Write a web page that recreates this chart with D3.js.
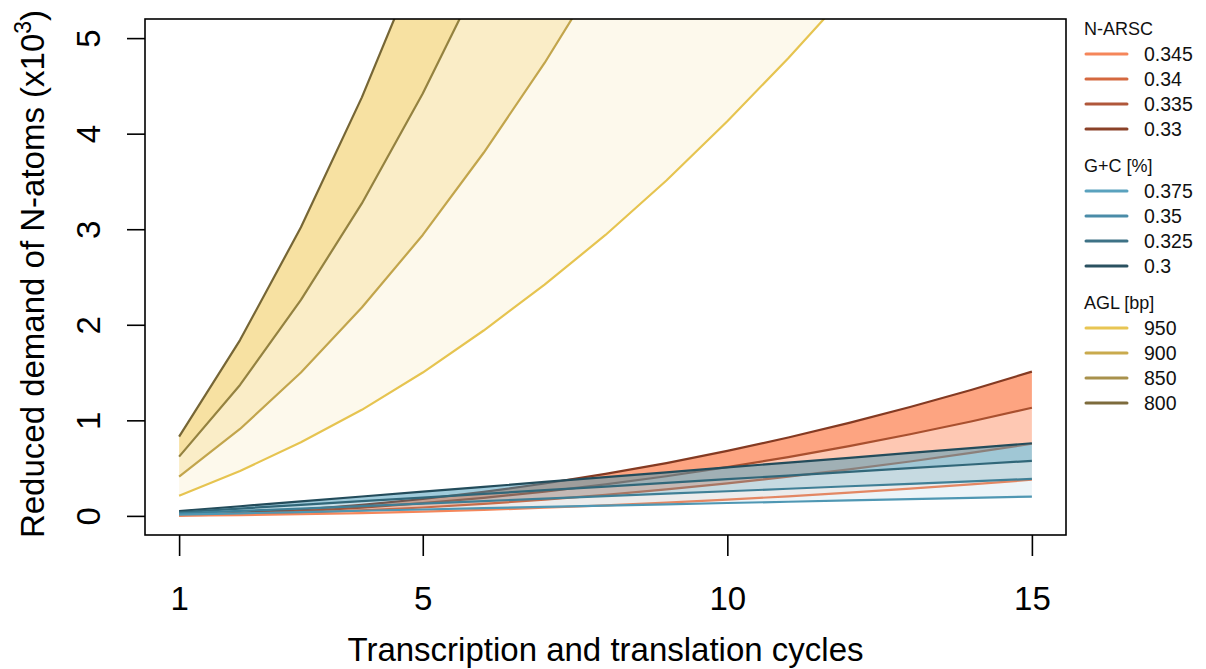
<!DOCTYPE html>
<html>
<head>
<meta charset="utf-8">
<script src="https://cdn.jsdelivr.net/npm/d3@7"></script>
<style>
body { margin: 0; background: #fff; }
svg { display: block; font-family: "Liberation Sans", Arial, Helvetica, sans-serif; }
</style>
</head>
<body>
<div id="chart-area"></div>
<script>

// SVG Size
var width = 1206,
    height = 669;

// Data (values in x10^3 N-atoms)
var cycles = [1, 2, 3, 4, 5, 6, 7, 8, 9, 10, 11, 12, 13, 14, 15];

var arscLabels = ["0.345", "0.34", "0.335", "0.33"];
var arsc0345 = [0.002, 0.008, 0.017, 0.029, 0.044, 0.063, 0.085, 0.110, 0.138, 0.170, 0.205, 0.243, 0.285, 0.329, 0.378];
var arsc0340 = [0.005, 0.016, 0.034, 0.058, 0.088, 0.126, 0.170, 0.220, 0.277, 0.340, 0.410, 0.486, 0.569, 0.659, 0.755];
var arsc0335 = [0.007, 0.024, 0.050, 0.087, 0.133, 0.189, 0.254, 0.330, 0.415, 0.510, 0.615, 0.730, 0.854, 0.988, 1.132];
var arsc0330 = [0.009, 0.032, 0.067, 0.115, 0.177, 0.251, 0.339, 0.440, 0.553, 0.680, 0.820, 0.973, 1.139, 1.318, 1.510];

var gcLabels = ["0.375", "0.35", "0.325", "0.3"];
var gc0375 = [0.013, 0.027, 0.040, 0.054, 0.067, 0.081, 0.094, 0.108, 0.121, 0.135, 0.148, 0.162, 0.175, 0.189, 0.202];
var gc0350 = [0.026, 0.052, 0.077, 0.103, 0.129, 0.155, 0.181, 0.206, 0.232, 0.258, 0.284, 0.310, 0.335, 0.361, 0.387];
var gc0325 = [0.038, 0.077, 0.115, 0.154, 0.192, 0.230, 0.269, 0.307, 0.346, 0.384, 0.422, 0.461, 0.499, 0.538, 0.576];
var gc0300 = [0.051, 0.101, 0.152, 0.203, 0.254, 0.304, 0.355, 0.406, 0.456, 0.507, 0.558, 0.608, 0.659, 0.710, 0.760];

var aglLabels = ["950", "900", "850", "800"];
var agl950 = [0.21, 0.47, 0.77, 1.11, 1.50, 1.94, 2.42, 2.94, 3.51, 4.13, 4.79, 5.49, 6.24, 7.04, 7.88];
var agl900 = [0.41, 0.91, 1.50, 2.18, 2.94, 3.80, 4.74, 5.77, 6.89, 8.10, 9.39, 10.78, 12.25, 13.81, 15.46];
var agl850 = [0.62, 1.37, 2.26, 3.27, 4.42, 5.71, 7.12, 8.67, 10.35, 12.17, 14.11, 16.19, 18.40, 20.75, 23.23];
var agl800 = [0.83, 1.84, 3.02, 4.38, 5.92, 7.64, 9.53, 11.60, 13.85, 16.28, 18.88, 21.67, 24.63, 27.76, 31.08];

var xTicks = [1, 5, 10, 15];
var yTicks = [0, 1, 2, 3, 4, 5];

// groups, series listed from the top line to the bottom line
var groups = [
    { title: "N-ARSC", labels: arscLabels,
      series: [arsc0330, arsc0335, arsc0340, arsc0345],
      lineColors: ["#843a22", "#a9502f", "#d4683f", "#f5865a"],
      legendColors: ["#f5865a", "#d4683f", "#b0573a", "#8a4128"],
      fill: "#fc4a04", alpha: [0.5, 0.3, 0.05] },
    { title: "G+C [%]", labels: gcLabels,
      series: [gc0300, gc0325, gc0350, gc0375],
      lineColors: ["#234c5b", "#316779", "#3f7f96", "#4f97b3"],
      legendColors: ["#5aa2be", "#4a8ca8", "#3e7286", "#2a5160"],
      fill: "#4297b8", alpha: [0.5, 0.3, 0.1] },
    { title: "AGL [bp]", labels: aglLabels,
      series: [agl800, agl850, agl900, agl950],
      lineColors: ["#766635", "#948240", "#c2a54c", "#e6c450"],
      legendColors: ["#e8c553", "#c9aa4d", "#a8914c", "#7d6b3c"],
      fill: "#efc445", alpha: [0.5, 0.3, 0.1] }
];

var plot = { left: 145, right: 1066, top: 19, bottom: 535 };

var svg = d3.select("#chart-area")
    .append("svg")
    .attr("width", width)
    .attr("height", height);

// R style scales, 4% padding on both ends
var xScale = d3.scaleLinear()
    .domain([0.44, 15.56])
    .range([plot.left, plot.right]);

var yScale = d3.scaleLinear()
    .domain([-0.2, 5.2])
    .range([plot.bottom, plot.top]);

svg.append("clipPath")
    .attr("id", "plot-clip")
    .append("rect")
    .attr("x", plot.left)
    .attr("y", plot.top)
    .attr("width", plot.right - plot.left)
    .attr("height", plot.bottom - plot.top);

var plotArea = svg.append("g").attr("clip-path", "url(#plot-clip)");

groups.forEach(function (grp) {
    var g = plotArea.append("g");

    // filled bands between neighbouring lines
    for (var i = 0; i < grp.series.length - 1; i++) {
        var upper = grp.series[i], lower = grp.series[i + 1];
        var area = d3.area()
            .x(function (d, j) { return xScale(cycles[j]); })
            .y0(function (d, j) { return yScale(lower[j]); })
            .y1(function (d, j) { return yScale(upper[j]); });
        g.append("path")
            .datum(cycles)
            .attr("d", area)
            .attr("fill", grp.fill)
            .attr("fill-opacity", grp.alpha[i]);
    }

    var line = d3.line()
        .x(function (d, j) { return xScale(cycles[j]); })
        .y(function (d) { return yScale(d); });

    grp.series.forEach(function (s, i) {
        g.append("path")
            .datum(s)
            .attr("d", line)
            .attr("fill", "none")
            .attr("stroke", grp.lineColors[i])
            .attr("stroke-width", 2.2)
            .attr("stroke-linejoin", "round");
    });
});

// Draw the axes
var xAxis = d3.axisBottom(xScale)
    .tickValues(xTicks)
    .tickSize(21)
    .tickFormat(d3.format("d"));

var yAxis = d3.axisLeft(yScale)
    .tickValues(yTicks)
    .tickSize(18)
    .tickFormat(d3.format("d"));

var gx = svg.append("g")
    .attr("class", "axis x-axis")
    .attr("transform", "translate(0," + plot.bottom + ")")
    .call(xAxis);

var gy = svg.append("g")
    .attr("class", "axis y-axis")
    .attr("transform", "translate(" + plot.left + ",0)")
    .call(yAxis);

[gx, gy].forEach(function (ax) {
    ax.select(".domain").remove();
    ax.selectAll(".tick line").attr("stroke", "#000").attr("stroke-width", 1.6);
    ax.selectAll(".tick text")
        .attr("fill", "#000")
        .style("font-size", "33px");
});

gx.selectAll(".tick text")
    .attr("y", 75)
    .attr("dy", 0);

// y labels run along the axis, like R's default
gy.selectAll(".tick text")
    .attr("transform", "rotate(-90)")
    .attr("x", 0)
    .attr("y", -45)
    .attr("dy", 0)
    .attr("text-anchor", "middle");

// plot box
svg.append("rect")
    .attr("x", plot.left)
    .attr("y", plot.top)
    .attr("width", plot.right - plot.left)
    .attr("height", plot.bottom - plot.top)
    .attr("fill", "none")
    .attr("stroke", "#000")
    .attr("stroke-width", 1.6);

// axis titles
svg.append("text")
    .attr("text-anchor", "middle")
    .attr("x", (plot.left + plot.right) / 2)
    .attr("y", 661)
    .style("font-size", "33px")
    .text("Transcription and translation cycles");

var yTitle = svg.append("text")
    .attr("text-anchor", "middle")
    .attr("transform", "translate(44," + 274 + ")rotate(-90)")
    .style("font-size", "33px");
yTitle.append("tspan").text("Reduced demand of N-atoms (x10");
yTitle.append("tspan").attr("dy", -13).style("font-size", "23px").text("3");
yTitle.append("tspan").attr("dy", 13).text(")");

// legend
var legend = svg.append("g").attr("class", "legend");
groups.forEach(function (grp, gi) {
    var top = 28 + gi * 137;
    legend.append("text")
        .attr("x", 1084)
        .attr("y", top + 6.5)
        .style("font-size", "18px")
        .attr("fill", "#111")
        .text(grp.title);
    grp.labels.forEach(function (lab, i) {
        var cy = top + 26 + i * 25;
        legend.append("line")
            .attr("x1", 1086)
            .attr("x2", 1127)
            .attr("y1", cy)
            .attr("y2", cy)
            .attr("stroke", grp.legendColors[i])
            .attr("stroke-width", 3)
            .attr("stroke-linecap", "round");
        legend.append("text")
            .attr("x", 1144)
            .attr("y", cy + 7)
            .style("font-size", "19.5px")
            .attr("fill", "#111")
            .text(lab);
    });
});

</script>
</body>
</html>
